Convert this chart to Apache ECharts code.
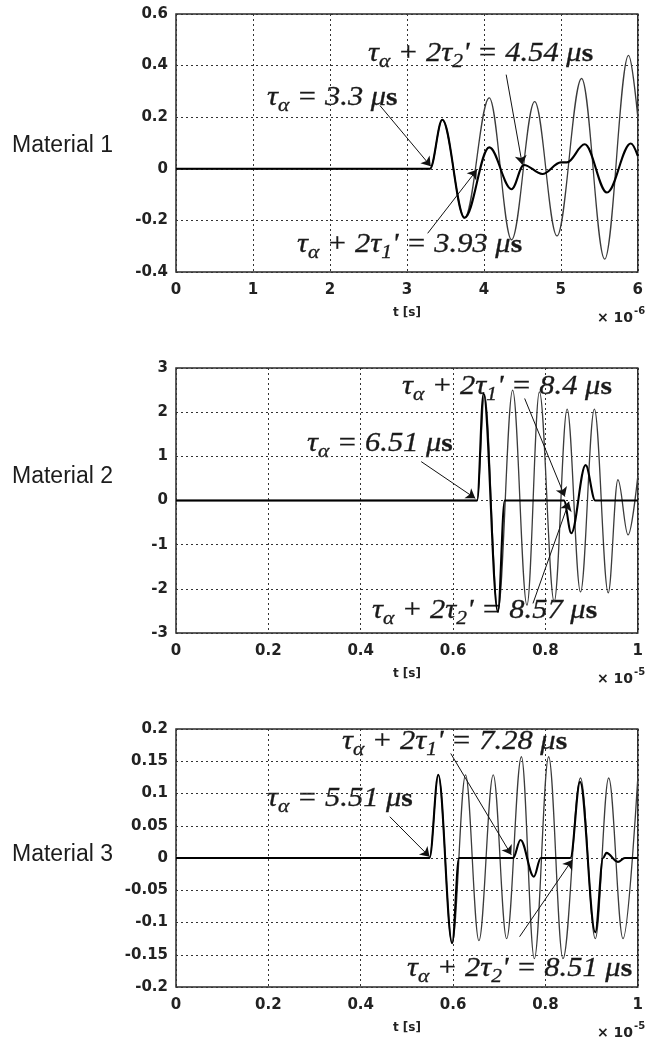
<!DOCTYPE html>
<html>
<head>
<meta charset="utf-8">
<script src="https://cdn.jsdelivr.net/npm/echarts@6/dist/echarts.min.js"></script>
<style>
  html, body { margin: 0; padding: 0; background: #fff; }
  #chart { width: 646px; height: 1043px; }
</style>
</head>
<body>
<div id="chart"></div>
<script>
// Material 1 — t in units of 1e-6 s, [t, amplitude]
const m1Thin = [
  [0, 0], [3.3, 0], [3.46, 0.19], [3.75, -0.19], [4.07, 0.275], [4.36, -0.275],
  [4.66, 0.26], [4.95, -0.26], [5.27, 0.35], [5.57, -0.35], [5.88, 0.44], [6.0, 0.2],
];
const m1Thick = [
  [0, 0], [3.3, 0], [3.46, 0.19], [3.75, -0.19], [4.07, 0.083], [4.36, -0.079],
  [4.52, 0.015], [4.76, -0.02], [5.0, 0.025], [5.08, 0.025], [5.31, 0.095],
  [5.6, -0.092], [5.91, 0.098], [6.0, 0.05],
];

// Material 2 — t in units of 1e-5 s
const m2Thin = [
  [0, 0], [0.652, 0], [0.668, 2.4], [0.697, -2.5], [0.729, 2.5], [0.76, -2.37],
  [0.787, 2.46], [0.819, -2.29], [0.847, 2.07], [0.876, -2.07], [0.906, 2.07],
  [0.936, -2.09], [0.957, 0.47], [0.979, -0.78], [1.0, 0.55],
];
const m2Thick = [
  [0, 0], [0.652, 0], [0.666, 2.42], [0.697, -2.52], [0.712, 0], [0.84, 0],
  [0.856, -0.74], [0.887, 0.8], [0.908, 0], [1.0, 0],
];

// Material 3 — t in units of 1e-5 s
const m3Thin = [
  [0, 0], [0.549, 0], [0.568, 0.129], [0.598, -0.132], [0.627, 0.129],
  [0.656, -0.128], [0.687, 0.129], [0.716, -0.125], [0.748, 0.157],
  [0.776, -0.156], [0.807, 0.157], [0.838, -0.156], [0.876, 0.124],
  [0.908, -0.125], [0.937, 0.124], [0.968, -0.125], [1.0, 0.124],
];
const m3Thick = [
  [0, 0], [0.549, 0], [0.568, 0.129], [0.598, -0.132], [0.613, 0], [0.73, 0],
  [0.746, 0.028], [0.775, -0.029], [0.79, 0], [0.854, 0], [0.875, 0.118],
  [0.908, -0.115], [0.925, 0], [0.932, 0.008], [0.957, -0.006], [0.972, 0], [1.0, 0],
];

// axis ranges: [min, max, interval]
const xRanges = [[0, 6, 1], [0, 1, 0.2], [0, 1, 0.2]];
const yRanges = [[-0.4, 0.6, 0.2], [-3, 3, 1], [-0.2, 0.2, 0.05]];
const xExponents = ['-6', '-5', '-5'];
const materialNames = ['Material 1', 'Material 2', 'Material 3'];

// annotation arrows [tail, tip] in data coordinates
const m1Arrows = [[[2.65, 0.245], [3.31, 0.01]], [[4.29, 0.365], [4.5, 0.016]], [[3.27, -0.25], [3.91, -0.004]]];
const m2Arrows = [[[0.531, 0.88], [0.648, 0.05]], [[0.755, 2.31], [0.842, 0.09]], [[0.773, -2.33], [0.851, -0.03]]];
const m3Arrows = [[[0.463, 0.064], [0.549, 0.002]], [[0.595, 0.162], [0.726, 0.005]], [[0.744, -0.122], [0.858, -0.003]]];

// annotation labels: subscript of tau' (null for plain tau_alpha) and time in µs
const notes = [
  [null, '3.3'], ['2', '4.54'], ['1', '3.93'],
  [null, '6.51'], ['1', '8.4'], ['2', '8.57'],
  [null, '5.51'], ['1', '7.28'], ['2', '8.51'],
];

// ---- layout ----
const gridBoxes = [
  { left: 176, top: 14, width: 469, height: 258 },
  { left: 176, top: 368, width: 469, height: 265 },
  { left: 176, top: 729, width: 469, height: 258 },
];
const materialY = [146, 477, 855];
const notePos = [
  [267, 106], [368, 62], [297, 253],
  [307, 452], [402, 395], [372, 619],
  [267, 807], [342, 750], [407, 977],
];

const measure = document.createElement('canvas').getContext('2d');
const eqFonts = {
  m: { size: 27, font: 'italic 27px "Liberation Serif"', dy: 0 },
  u: { size: 19, font: 'italic 19px "Liberation Serif"', dy: 6 },
  b: { size: 26, font: 'bold 26px "Liberation Serif"', dy: 0 },
};

function equation(sub, val, left, base) {
  const parts = sub
    ? [['τ', 'm'], ['α', 'u'], [' + 2τ', 'm'], [sub, 'u'], ["' = " + val + ' ', 'm'], ['μ', 'm'], ['s', 'b']]
    : [['τ', 'm'], ['α', 'u'], [' = ' + val + ' ', 'm'], ['μ', 'm'], ['s', 'b']];
  let x = 0;
  const children = parts.map(([t, k]) => {
    const f = eqFonts[k];
    measure.font = f.font;
    const el = {
      type: 'text', x, y: f.dy - 0.3 * f.size,
      style: {
        text: t, font: f.font, fill: '#1a1a1a', verticalAlign: 'middle',
        stroke: '#1a1a1a', lineWidth: 0.3,
      },
    };
    x += measure.measureText(t).width;
    return el;
  });
  return { type: 'group', x: left, y: base, scaleX: 1.13, silent: true, children };
}

function timeScale(exp, g) {
  const left = 597;
  const cy = g.top + g.height + 46;
  measure.font = 'bold 14px "DejaVu Sans"';
  const w = measure.measureText('× 10').width;
  return {
    type: 'group', silent: true,
    children: [
      { type: 'text', x: left, y: cy, style: { text: '× 10', font: 'bold 14px "DejaVu Sans"', fill: '#222', verticalAlign: 'middle' } },
      { type: 'text', x: left + w + 1, y: cy - 7, style: { text: exp, font: 'bold 10px "DejaVu Sans"', fill: '#222', verticalAlign: 'middle' } },
    ],
  };
}

const thinData = [m1Thin, m2Thin, m3Thin];
const thickData = [m1Thick, m2Thick, m3Thick];
const arrows = [m1Arrows, m2Arrows, m3Arrows];

const tickFont = { fontFamily: 'DejaVu Sans', fontWeight: 'bold', fontSize: 15, color: '#222' };
const gridLine = { show: true, lineStyle: { type: [2, 3], color: '#333', width: 1 } };

const series = [];
thinData.forEach((d, i) => {
  series.push({
    type: 'line', xAxisIndex: i, yAxisIndex: i, data: d,
    smooth: 0.36, smoothMonotone: 'x', symbol: 'none',
    lineStyle: { color: '#3c3c3c', width: 1.3 },
    animation: false, silent: true,
  });
  series.push({
    type: 'line', xAxisIndex: i, yAxisIndex: i, data: thickData[i],
    smooth: 0.36, smoothMonotone: 'x', symbol: 'none',
    lineStyle: { color: '#000', width: 2.1 },
    animation: false, silent: true,
    markLine: {
      silent: true, animation: false,
      symbol: ['none', 'arrow'], symbolSize: 9,
      label: { show: false },
      lineStyle: { color: '#111', width: 1, type: 'solid' },
      emphasis: { disabled: true },
      data: arrows[i].map(([a, b]) => [{ coord: a }, { coord: b }]),
    },
  });
});

const graphic = [];
materialNames.forEach((name, i) => {
  graphic.push({
    type: 'text', x: 12, y: materialY[i], silent: true,
    style: { text: name, font: '23px "Liberation Sans"', fill: '#1c1c1c', verticalAlign: 'middle' },
  });
  graphic.push(timeScale(xExponents[i], gridBoxes[i]));
});
notes.forEach(([sub, val], i) => {
  graphic.push(equation(sub, val, notePos[i][0], notePos[i][1]));
});

const chart = echarts.init(document.getElementById('chart'));
chart.setOption({
  animation: false,
  backgroundColor: '#fff',
  grid: gridBoxes.map((g) => ({ ...g, show: true, borderColor: '#2a2a2a', borderWidth: 1.5 })),
  xAxis: xRanges.map(([min, max, step], i) => ({
    type: 'value', gridIndex: i, min, max, interval: step,
    name: 't [s]', nameLocation: 'middle', nameGap: 35,
    nameTextStyle: { fontFamily: 'DejaVu Sans', fontWeight: 'bold', fontSize: 12, color: '#222' },
    axisLine: { show: false }, axisTick: { show: false },
    axisLabel: { ...tickFont, margin: 11 },
    splitLine: gridLine,
  })),
  yAxis: yRanges.map(([min, max, step], i) => ({
    type: 'value', gridIndex: i, min, max, interval: step,
    axisLine: { show: false }, axisTick: { show: false },
    axisLabel: { ...tickFont, margin: 8 },
    splitLine: gridLine,
  })),
  series,
  graphic,
});
</script>
</body>
</html>
